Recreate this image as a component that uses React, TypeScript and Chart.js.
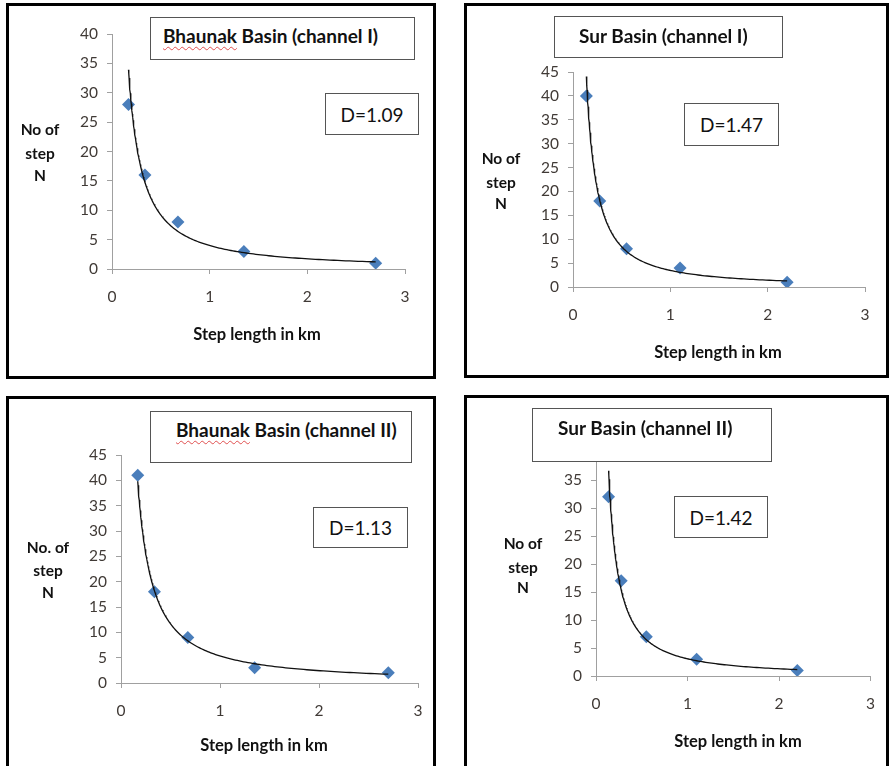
import React, { useEffect, useRef } from 'react';
import { Chart, registerables } from 'chart.js';

Chart.register(...registerables);

const PAGE_W = 889;
const PAGE_H = 766;

// ---------- data ----------
const bhaunakStepLengths = [0.169, 0.3375, 0.675, 1.35, 2.7];
const surStepLengths = [0.1375, 0.275, 0.55, 1.1, 2.2];
const bhaunakCh1Steps = [28, 16, 8, 3, 1];
const surCh1Steps = [40, 18, 8, 4, 1];
const bhaunakCh2Steps = [41, 18, 9, 3, 2];
const surCh2Steps = [32, 17, 7, 3, 1];
const xTickValues = [0, 1, 2, 3];
const yMaxima = [40, 45, 45, 40];
const panelTitles = ['Bhaunak Basin (channel I)', 'Sur Basin (channel I)', 'Bhaunak Basin (channel II)', 'Sur Basin (channel II)'];
const dLabels = ['D=1.09', 'D=1.47', 'D=1.13', 'D=1.42'];
const yTitleLines = [
  ['No of', 'step', 'N'],
  ['No of', 'step', 'N'],
  ['No. of', 'step', 'N'],
  ['No of', 'step', 'N'],
];
const xTitleText = 'Step length in km';

// ---------- layout (page coordinates) ----------
const LAYOUT = [
  {
    frame: { l: 6, t: 3, r: 436, b: 379 },
    plot: { l: 112, r: 405, t: 34, b: 269 },
    titleBox: { l: 150, t: 17, r: 415, b: 60 }, titleText: { l: 163, cy: 36 },
    dBox: { l: 325, t: 93, r: 419, b: 135 },
    yTitle: { cx: 40, ys: [129, 153, 175] },
    xTitle: { cx: 257, cy: 334 },
  },
  {
    frame: { l: 464, t: 3, r: 889, b: 378 },
    plot: { l: 573, r: 865, t: 72, b: 287 },
    titleBox: { l: 554, t: 16, r: 783, b: 58 }, titleText: { l: 579, cy: 36 },
    dBox: { l: 684, t: 103, r: 779, b: 146 },
    yTitle: { cx: 501, ys: [158, 182, 203] },
    xTitle: { cx: 718, cy: 352 },
  },
  {
    frame: { l: 6, t: 396, r: 436, b: 790 },
    plot: { l: 121, r: 418, t: 455, b: 683 },
    titleBox: { l: 150, t: 411, r: 412, b: 463 }, titleText: { l: 176, cy: 430 },
    dBox: { l: 313, t: 507, r: 408, b: 548 },
    yTitle: { cx: 48, ys: [547, 570, 592] },
    xTitle: { cx: 264, cy: 745 },
  },
  {
    frame: { l: 464, t: 395, r: 889, b: 790 },
    plot: { l: 596, r: 882, t: 452, b: 676 },
    titleBox: { l: 532, t: 408, r: 772, b: 462 }, titleText: { l: 558, cy: 428 },
    dBox: { l: 674, t: 496, r: 768, b: 538 },
    yTitle: { cx: 523, ys: [543, 567, 587] },
    xTitle: { cx: 738, cy: 741 },
  },
];

const SERIES = [
  { xs: bhaunakStepLengths, ys: bhaunakCh1Steps },
  { xs: surStepLengths, ys: surCh1Steps },
  { xs: bhaunakStepLengths, ys: bhaunakCh2Steps },
  { xs: surStepLengths, ys: surCh2Steps },
];

const FONT = 'Lato, "Open Sans", "DejaVu Sans", sans-serif';
const AXIS_GRAY = '#a0a0a0';
const TICK_COLOR = '#403a36';
const MARKER_BLUE = '#4A7EBB';
const X_AXIS_H = 40;

// Excel-style power trendline: least squares on ln(x), ln(y)
function powerTrend(xs: number[], ys: number[]) {
  const lx = xs.map(Math.log);
  const ly = ys.map(Math.log);
  const n = xs.length;
  const mx = lx.reduce((a, b) => a + b, 0) / n;
  const my = ly.reduce((a, b) => a + b, 0) / n;
  let sxy = 0, sxx = 0;
  for (let i = 0; i < n; i++) {
    sxy += (lx[i] - mx) * (ly[i] - my);
    sxx += (lx[i] - mx) * (lx[i] - mx);
  }
  const slope = sxy / sxx;
  const lnA = my - slope * mx;
  const x0 = Math.min(...xs);
  const x1 = Math.max(...xs);
  const pts: { x: number; y: number }[] = [];
  const steps = 160;
  for (let i = 0; i <= steps; i++) {
    const x = Math.exp(Math.log(x0) + (Math.log(x1) - Math.log(x0)) * (i / steps));
    pts.push({ x, y: Math.exp(lnA + slope * Math.log(x)) });
  }
  return pts;
}

function PanelChart({ idx }: { idx: number }) {
  const ref = useRef<HTMLCanvasElement | null>(null);
  useEffect(() => {
    if (!ref.current) return;
    const lay = LAYOUT[idx];
    const s = SERIES[idx];
    const points = s.xs.map((x, i) => ({ x, y: s.ys[i] }));
    const chart = new Chart(ref.current, {
      type: 'scatter',
      data: {
        datasets: [
          {
            type: 'line',
            data: powerTrend(s.xs, s.ys),
            borderColor: '#111111',
            borderWidth: 1.3,
            pointRadius: 0,
            fill: false,
            tension: 0,
            order: 0,
          } as any,
          {
            type: 'scatter',
            data: points,
            pointStyle: 'rectRot',
            pointRadius: 6.5,
            backgroundColor: MARKER_BLUE,
            borderColor: MARKER_BLUE,
            borderWidth: 0,
            order: 1,
          } as any,
        ],
      },
      options: {
        responsive: false,
        animation: false,
        devicePixelRatio: 1,
        events: [],
        layout: {
          padding: {
            left: 0,
            top: lay.plot.t,
            right: PAGE_W - lay.plot.r,
            bottom: PAGE_H - lay.plot.b - X_AXIS_H,
          },
        },
        plugins: { legend: { display: false }, tooltip: { enabled: false }, title: { display: false } },
        scales: {
          x: {
            type: 'linear',
            min: 0,
            max: 3,
            afterBuildTicks: (sc: any) => {
              sc.ticks = xTickValues.map((v) => ({ value: v }));
            },
            afterFit: (sc: any) => {
              sc.height = X_AXIS_H;
            },
            grid: { drawOnChartArea: false, drawTicks: true, tickLength: 5, color: AXIS_GRAY },
            border: { color: AXIS_GRAY, width: 1 },
            ticks: { font: { family: FONT, size: 15.5 }, color: TICK_COLOR, padding: 14, maxRotation: 0 },
          },
          y: {
            type: 'linear',
            min: 0,
            max: yMaxima[idx],
            afterFit: (sc: any) => {
              sc.width = lay.plot.l;
            },
            grid: { drawOnChartArea: false, drawTicks: true, tickLength: 5, color: AXIS_GRAY },
            border: { color: AXIS_GRAY, width: 1 },
            ticks: { stepSize: 5, font: { family: FONT, size: 15.5 }, color: TICK_COLOR, padding: 9 },
          },
        },
      } as any,
    });
    return () => chart.destroy();
  }, [idx]);
  return (
    <canvas
      ref={ref}
      width={PAGE_W}
      height={PAGE_H}
      style={{ position: 'absolute', left: 0, top: 0, width: PAGE_W, height: PAGE_H, zIndex: 1 }}
    />
  );
}

function TitleText({ text }: { text: string }) {
  if (text.startsWith('Bhaunak')) {
    return (
      <>
        <span style={{ textDecoration: 'underline wavy #e05050', textDecorationThickness: '1px', textUnderlineOffset: '3px' }}>Bhaunak</span>
        {text.slice('Bhaunak'.length)}
      </>
    );
  }
  return <>{text}</>;
}

function PanelOverlay({ idx }: { idx: number }) {
  const lay = LAYOUT[idx];
  const box = (b: { l: number; t: number; r: number; b: number }) => ({
    position: 'absolute' as const,
    left: b.l,
    top: b.t,
    width: b.r - b.l,
    height: b.b - b.t,
    boxSizing: 'border-box' as const,
    border: '1px solid #555555',
    background: '#ffffff',
    zIndex: 2,
  });
  return (
    <>
      <div
        style={{
          position: 'absolute',
          left: lay.frame.l,
          top: lay.frame.t,
          width: lay.frame.r - lay.frame.l,
          height: lay.frame.b - lay.frame.t,
          boxSizing: 'border-box',
          border: '3px solid #000000',
          zIndex: 0,
        }}
      />
      <div style={box(lay.titleBox)} />
      <div
        style={{
          position: 'absolute',
          left: lay.titleText.l,
          top: lay.titleText.cy - 12,
          height: 24,
          lineHeight: '24px',
          fontFamily: FONT,
          fontWeight: 700,
          fontSize: 19,
          color: '#111111',
          whiteSpace: 'nowrap',
          zIndex: 3,
        }}
      >
        <TitleText text={panelTitles[idx]} />
      </div>
      <div
        style={{
          ...box(lay.dBox),
          display: 'flex',
          alignItems: 'center',
          justifyContent: 'center',
          fontFamily: FONT,
          fontSize: 19,
          color: '#111111',
          whiteSpace: 'nowrap',
        }}
      >
        {dLabels[idx]}
      </div>
      {yTitleLines[idx].map((line, i) => (
        <div
          key={i}
          style={{
            position: 'absolute',
            left: lay.yTitle.cx - 50,
            width: 100,
            top: lay.yTitle.ys[i] - 10,
            height: 20,
            lineHeight: '20px',
            textAlign: 'center',
            fontFamily: FONT,
            fontWeight: 700,
            fontSize: 15.5,
            color: '#111111',
            zIndex: 2,
          }}
        >
          {line}
        </div>
      ))}
      <div
        style={{
          position: 'absolute',
          left: lay.xTitle.cx - 120,
          width: 240,
          top: lay.xTitle.cy - 10,
          height: 20,
          lineHeight: '20px',
          textAlign: 'center',
          fontFamily: FONT,
          fontWeight: 700,
          fontSize: 16.5,
          color: '#111111',
          whiteSpace: 'pre',
          zIndex: 2,
        }}
      >
        {xTitleText}
      </div>
    </>
  );
}

export default function App() {
  return (
    <div
      style={{
        position: 'absolute',
        left: 0,
        top: 0,
        width: PAGE_W,
        height: PAGE_H,
        overflow: 'hidden',
        background: '#ffffff',
      }}
    >
      {[0, 1, 2, 3].map((i) => (
        <React.Fragment key={i}>
          <PanelChart idx={i} />
          <PanelOverlay idx={i} />
        </React.Fragment>
      ))}
    </div>
  );
}
